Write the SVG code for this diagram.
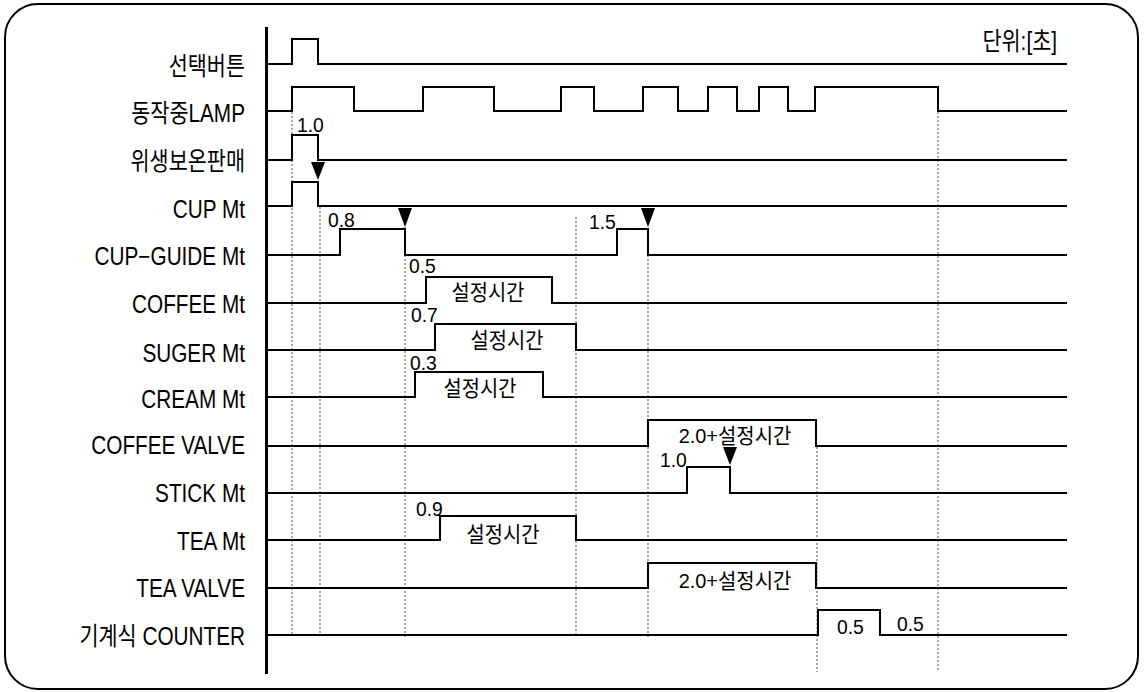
<svg xmlns="http://www.w3.org/2000/svg" width="1145" height="692" viewBox="0 0 1145 692">
<style>
.frame{fill:none;stroke:#000;stroke-width:2}
.axis{stroke:#000;stroke-width:3}
.wave{fill:none;stroke:#000;stroke-width:2;stroke-linejoin:miter}
.dot{stroke:#555;stroke-width:1;stroke-dasharray:2 2}
.arr{fill:#000}
.lbl{font-family:"Liberation Sans","Noto Sans CJK KR",sans-serif;font-size:25px;fill:#000;text-anchor:end}
.sm{font-family:"Liberation Sans","Noto Sans CJK KR",sans-serif;font-size:21px;fill:#000}
.kr{font-size:22px}
.mid{text-anchor:middle}
</style>
<rect class="frame" x="5" y="4" width="1133" height="685" rx="33" ry="33"/>
<line class="axis" x1="266.5" y1="27" x2="266.5" y2="674"/>
<text class="lbl" transform="translate(1057,50) scale(0.83,1)">단위:[초]</text>

<g id="connectors">
<line class="dot" x1="292" y1="112" x2="292" y2="636"/>
<line class="dot" x1="320" y1="207" x2="320" y2="636"/>
<line class="dot" x1="405" y1="227" x2="405" y2="637"/>
<line class="dot" x1="576" y1="217" x2="576" y2="637"/>
<line class="dot" x1="648" y1="255" x2="648" y2="637"/>
<line class="dot" x1="817" y1="447" x2="817" y2="672"/>
<line class="dot" x1="938" y1="112" x2="938" y2="672"/>
<polygon class="arr" points="311,162 325,162 318,180"/>
<polygon class="arr" points="398,208 412,208 405,227"/>
<polygon class="arr" points="641,208 655,208 648,227"/>
<polygon class="arr" points="723,447 737,447 730,465"/>
</g>

<g id="sig-select">
<text class="lbl" transform="translate(245,75) scale(0.83,1)">선택버튼</text>
<polyline class="wave" points="268,64 292,64 292,39 318,39 318,64 1067,64"/>
</g>
<g id="sig-lamp">
<text class="lbl" transform="translate(245,122) scale(0.83,1)">동작중LAMP</text>
<polyline class="wave" points="268,111 292,111 292,87 354,87 354,111 423,111 423,87 494,87 494,111 561,111 561,87 594,87 594,111 643,111 643,87 678,87 678,111 708,111 708,87 737,87 737,111 759,111 759,87 788,87 788,111 815,111 815,87 938,87 938,111 1067,111"/>
</g>
<g id="sig-hygiene">
<text class="lbl" transform="translate(245,170) scale(0.83,1)">위생보온판매</text>
<polyline class="wave" points="268,160 292,160 292,135 318,135 318,160 1067,160"/>
<text class="sm" transform="translate(297,132) scale(0.92,1)">1.0</text>
</g>
<g id="sig-cup">
<text class="lbl" transform="translate(245,218) scale(0.83,1)">CUP Mt</text>
<polyline class="wave" points="268,206 292,206 292,182 318,182 318,206 1067,206"/>
</g>
<g id="sig-cupguide">
<text class="lbl" transform="translate(245,265) scale(0.83,1)">CUP−GUIDE Mt</text>
<polyline class="wave" points="268,255 340,255 340,229 405,229 405,255 617,255 617,229 648,229 648,255 1067,255"/>
<text class="sm" transform="translate(328,227) scale(0.92,1)">0.8</text>
<text class="sm" transform="translate(589,229) scale(0.92,1)">1.5</text>
</g>
<g id="sig-coffee">
<text class="lbl" transform="translate(245,313) scale(0.83,1)">COFFEE Mt</text>
<polyline class="wave" points="268,303 426,303 426,277 552,277 552,303 1067,303"/>
<text class="sm" transform="translate(409,273) scale(0.92,1)">0.5</text>
<text class="sm kr mid" transform="translate(488,300) scale(0.9,1)">설정시간</text>
</g>
<g id="sig-suger">
<text class="lbl" transform="translate(245,362) scale(0.83,1)">SUGER Mt</text>
<polyline class="wave" points="268,350 435,350 435,324 576,324 576,350 1067,350"/>
<text class="sm" transform="translate(411,322) scale(0.92,1)">0.7</text>
<text class="sm kr mid" transform="translate(507,348) scale(0.9,1)">설정시간</text>
</g>
<g id="sig-cream">
<text class="lbl" transform="translate(245,408) scale(0.83,1)">CREAM Mt</text>
<polyline class="wave" points="268,397 415,397 415,372 543,372 543,397 1067,397"/>
<text class="sm" transform="translate(410,370) scale(0.92,1)">0.3</text>
<text class="sm kr mid" transform="translate(480,396) scale(0.9,1)">설정시간</text>
</g>
<g id="sig-coffeevalve">
<text class="lbl" transform="translate(245,454) scale(0.83,1)">COFFEE VALVE</text>
<polyline class="wave" points="268,446 648,446 648,420 816,420 816,446 1067,446"/>
<text class="sm mid" transform="translate(735,443) scale(0.95,1)">2.0+설정시간</text>
</g>
<g id="sig-stick">
<text class="lbl" transform="translate(245,502) scale(0.83,1)">STICK Mt</text>
<polyline class="wave" points="268,493 687,493 687,467 730,467 730,493 1067,493"/>
<text class="sm" transform="translate(660,467) scale(0.92,1)">1.0</text>
</g>
<g id="sig-tea">
<text class="lbl" transform="translate(245,550) scale(0.83,1)">TEA Mt</text>
<polyline class="wave" points="268,540 440,540 440,516 576,516 576,540 1067,540"/>
<text class="sm" transform="translate(416,516) scale(0.92,1)">0.9</text>
<text class="sm kr mid" transform="translate(503,542) scale(0.9,1)">설정시간</text>
</g>
<g id="sig-teavalve">
<text class="lbl" transform="translate(245,597) scale(0.83,1)">TEA VALVE</text>
<polyline class="wave" points="268,588 648,588 648,563 816,563 816,588 1067,588"/>
<text class="sm mid" transform="translate(735,588) scale(0.95,1)">2.0+설정시간</text>
</g>
<g id="sig-counter">
<text class="lbl" transform="translate(245,645) scale(0.83,1)">기계식 COUNTER</text>
<polyline class="wave" points="268,635 818,635 818,610 880,610 880,635 1067,635"/>
<text class="sm" transform="translate(837,634) scale(0.92,1)">0.5</text>
<text class="sm" transform="translate(897,631) scale(0.92,1)">0.5</text>
</g>
</svg>
